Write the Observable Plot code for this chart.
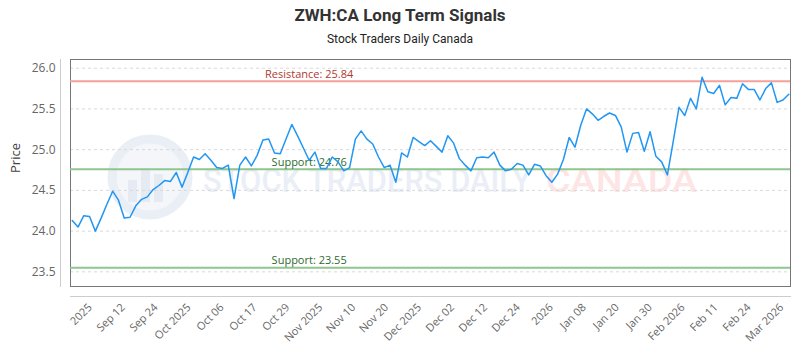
<!DOCTYPE html>
<html><head><meta charset="utf-8">
<script src="https://cdn.jsdelivr.net/npm/d3@7"></script>
<script src="https://cdn.jsdelivr.net/npm/@observablehq/plot@0.6"></script>
<style>
body{margin:0;background:#fff;width:800px;height:350px;overflow:hidden;position:relative;font-family:"Open Sans",sans-serif;}
#title{position:absolute;top:5px;left:0;width:800px;text-align:center;font:bold 17px/20px Roboto,sans-serif;color:#333;}
#subtitle{position:absolute;top:31px;left:0;width:800px;text-align:center;font:12px/16px Roboto,sans-serif;color:#222;}
#chart{position:absolute;top:48px;left:0;}
#wm{position:absolute;top:0;left:0;}
</style></head><body>
<svg id="wm" width="800" height="350">
  <circle cx="150" cy="177" r="38" fill="#f4f6fa" stroke="#eaeef5" stroke-width="9"/>
  <rect x="128" y="180" width="9" height="22" fill="#e6ebf3"/>
  <rect x="141" y="168" width="9" height="34" fill="#e6ebf3"/>
  <rect x="154" y="174" width="9" height="28" fill="#e6ebf3"/>
  <text x="203" y="192" font-family="Roboto" font-weight="500" font-size="33" fill="#eaeef6" textLength="328" lengthAdjust="spacingAndGlyphs">STOCK TRADERS DAILY</text>
  <text x="546" y="192" font-family="Roboto" font-weight="500" font-size="33" fill="#fde5e5" textLength="151" lengthAdjust="spacingAndGlyphs">CANADA</text>
</svg>
<div id="title">ZWH:CA Long Term Signals</div>
<div id="subtitle">Stock Traders Daily Canada</div>
<div id="chart"></div>
<script>
const prices = [
  24.13, 24.05, 24.19, 24.18, 24.00, 24.16, 24.33, 24.49, 24.38, 24.16,
  24.17, 24.31, 24.39, 24.42, 24.51, 24.56, 24.62, 24.61, 24.72, 24.54,
  24.72, 24.91, 24.88, 24.95, 24.87, 24.78, 24.77, 24.81, 24.40, 24.81,
  24.91, 24.80, 24.93, 25.12, 25.13, 24.96, 24.95, 25.13, 25.31, 25.17,
  25.02, 24.87, 24.97, 24.77, 24.77, 24.91, 24.85, 24.74, 24.78, 25.13,
  25.23, 25.13, 25.07, 24.91, 24.78, 24.81, 24.60, 24.96, 24.91, 25.15,
  25.10, 25.05, 25.11, 25.04, 24.97, 25.17, 25.08, 24.89, 24.81, 24.74,
  24.90, 24.91, 24.90, 24.97, 24.81, 24.74, 24.76, 24.83, 24.81, 24.69,
  24.82, 24.80, 24.68, 24.60, 24.70, 24.88, 25.15, 25.03, 25.30, 25.50,
  25.44, 25.36, 25.41, 25.45, 25.42, 25.28, 24.97, 25.20, 25.21, 24.98,
  25.22, 24.92, 24.85, 24.69, 25.10, 25.52, 25.42, 25.63, 25.50, 25.89,
  25.71, 25.69, 25.79, 25.55, 25.64, 25.63, 25.81, 25.74, 25.74, 25.61,
  25.75, 25.82, 25.58, 25.61, 25.68
];
const tickIndex = [3.1, 8.8, 14.5, 20.2, 25.9, 31.6, 37.3, 43.0, 48.7, 54.4, 60.1,
  65.8, 71.5, 77.2, 82.9, 88.6, 94.3, 100.0, 105.7, 111.4, 117.1, 122.8];
const tickLabels = ["2025", "Sep 12", "Sep 24", "Oct 2025", "Oct 06", "Oct 17", "Oct 29",
  "Nov 2025", "Nov 10", "Nov 20", "Dec 2025", "Dec 02", "Dec 12", "Dec 24", "2026",
  "Jan 08", "Jan 20", "Jan 30", "Feb 2026", "Feb 11", "Feb 24", "Mar 2026"];
const yTicks = [23.5, 24.0, 24.5, 25.0, 25.5, 26.0];
const resistanceNames = ["Resistance"];
const resistanceValues = [25.84];
const supportNames = ["Support", "Support"];
const supportValues = [24.76, 23.55];
const labelAt = 41;

const data = prices.map((v, i) => ({i, v}));
const res = resistanceValues.map((v, k) => ({name: resistanceNames[k], value: v}));
const sup = supportValues.map((v, k) => ({name: supportNames[k], value: v}));

const chart = Plot.plot({
  width: 800, height: 302,
  marginLeft: 70, marginRight: 10, marginTop: 11, marginBottom: 64,
  style: {fontFamily: '"Open Sans", sans-serif', fontSize: "12px", color: "#666", background: "transparent"},
  x: {domain: [-0.3, prices.length - 0.7]},
  y: {domain: [23.32, 26.107]},
  marks: [
    Plot.gridY(yTicks, {stroke: "#d8d8d8", strokeOpacity: 1, strokeDasharray: "3,3"}),
    Plot.frame({stroke: "#777"}),
    Plot.frame({anchor: "left", dx: -10, stroke: "#ccc"}),
    Plot.frame({anchor: "bottom", dy: 10, stroke: "#ccc"}),
    Plot.ruleY(res, {y: "value", stroke: "#f4a19a", strokeWidth: 2}),
    Plot.ruleY(sup, {y: "value", stroke: "#8fc68f", strokeWidth: 2}),
    Plot.text(res, {x: () => labelAt, y: "value", text: d => `${d.name}: ${d.value.toFixed(2)}`, dy: -7, fill: "#b03a2e", fontSize: 11}),
    Plot.text(sup, {x: () => labelAt, y: "value", text: d => `${d.name}: ${d.value.toFixed(2)}`, dy: -7, fill: "#2e6b30", fontSize: 11}),
    Plot.line(data, {x: "i", y: "v", stroke: "#2196f3", strokeWidth: 1.5}),
    Plot.axisY(yTicks, {tickSize: 0, tickPadding: 15, tickFormat: d3.format(".1f"), label: null, fill: "#666"}),
    Plot.axisX(tickIndex, {tickSize: 0, tickRotate: -45, tickPadding: 19, tickFormat: d => tickLabels[tickIndex.indexOf(d)], label: null, fontSize: 11, fill: "#666"}),
    Plot.text(["Price"], {frameAnchor: "left", text: d => d, rotate: -90, dx: -55, fontSize: 13, fill: "#444"})
  ]
});
document.getElementById("chart").appendChild(chart);
</script>
</body></html>
